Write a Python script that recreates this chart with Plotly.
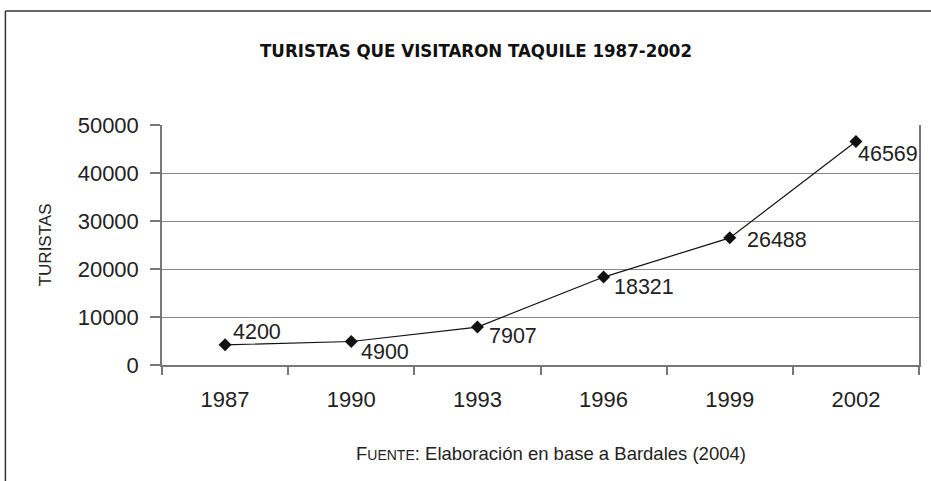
import plotly.graph_objects as go

years = ["1987", "1990", "1993", "1996", "1999", "2002"]
turistas = [4200, 4900, 7907, 18321, 26488, 46569]
y_ticks = [0, 10000, 20000, 30000, 40000, 50000]

W, H = 931, 481
L, R, T, B = 162, 10, 125, 116
pw, ph = W - L - R, H - T - B

def px_x(p):
    return (p - L) / pw

def px_y(p):
    return (H - B - p) / ph

FONT = "Liberation Sans, Arial, sans-serif"

# label offsets (pixels) relative to each marker, as placed in the original
label_shift = [(6, 13), (8, -11), (10, -9), (8, -10), (15, -2), (0, -13)]

fig = go.Figure()
fig.add_trace(go.Scatter(
    x=years, y=turistas,
    mode="lines+markers",
    line=dict(color="#111", width=1.2),
    marker=dict(symbol="diamond", size=10, color="#111"),
    cliponaxis=False,
    showlegend=False,
    hoverinfo="skip",
))

annotations = []
for i, (v, (dx, dy)) in enumerate(zip(turistas, label_shift)):
    annotations.append(dict(
        x=i, y=v, xref="x", yref="y", text=str(v), showarrow=False,
        xanchor="left", yanchor="middle", xshift=dx, yshift=dy,
        font=dict(family=FONT, size=21.5, color="#222"),
    ))

annotations.append(dict(
    text="F<span style='font-size:14px'>UENTE</span>: Elaboración en base a Bardales (2004)",
    xref="paper", yref="paper", x=px_x(552), y=px_y(453),
    xanchor="center", yanchor="middle", showarrow=False,
    font=dict(family=FONT, size=18.5, color="#222"),
))
annotations.append(dict(
    text="TURISTAS", textangle=-90,
    xref="paper", yref="paper", x=px_x(45), y=px_y(245),
    xanchor="center", yanchor="middle", showarrow=False,
    font=dict(family=FONT, size=17, color="#222"),
))

fig.update_layout(
    width=W, height=H,
    margin=dict(l=L, r=R, t=T, b=B),
    paper_bgcolor="white", plot_bgcolor="white",
    font=dict(family=FONT, color="#222"),
    title=dict(
        text="<b>TURISTAS QUE VISITARON TAQUILE 1987-2002</b>",
        font=dict(family="DejaVu Sans Condensed", size=18.5, color="#111"),
        x=476 / W, xanchor="center", y=1 - 51 / H, yanchor="middle",
    ),
    xaxis=dict(
        type="category", tickson="boundaries",
        showline=True, linecolor="#777", linewidth=1.5,
        ticks="outside", ticklen=8, tickcolor="#777", tickwidth=1.5,
        ticklabelstandoff=14,
        showgrid=False,
        tickfont=dict(size=22, color="#222"),
        range=[-0.5, 5.5],
    ),
    yaxis=dict(
        range=[0, 50000], tickvals=y_ticks, tickformat="d",
        showline=True, linecolor="#777", linewidth=1.5, mirror=True,
        ticks="outside", ticklen=10, tickcolor="#777", tickwidth=1.5,
        ticklabelstandoff=7,
        showgrid=True, gridcolor="#888", gridwidth=1.2,
        zeroline=False,
        tickfont=dict(size=22, color="#222"),
    ),
    shapes=[
        dict(type="line", xref="paper", yref="paper",
             x0=px_x(5), x1=px_x(W + 5), y0=px_y(11), y1=px_y(11),
             line=dict(color="#333", width=1.5)),
        dict(type="line", xref="paper", yref="paper",
             x0=px_x(5), x1=px_x(5), y0=px_y(11), y1=px_y(H + 5),
             line=dict(color="#333", width=1.5)),
    ],
    annotations=annotations,
)

fig.write_html("out.html", config={"displayModeBar": False},
               post_script="document.body.style.margin='0';document.body.style.padding='0';")
